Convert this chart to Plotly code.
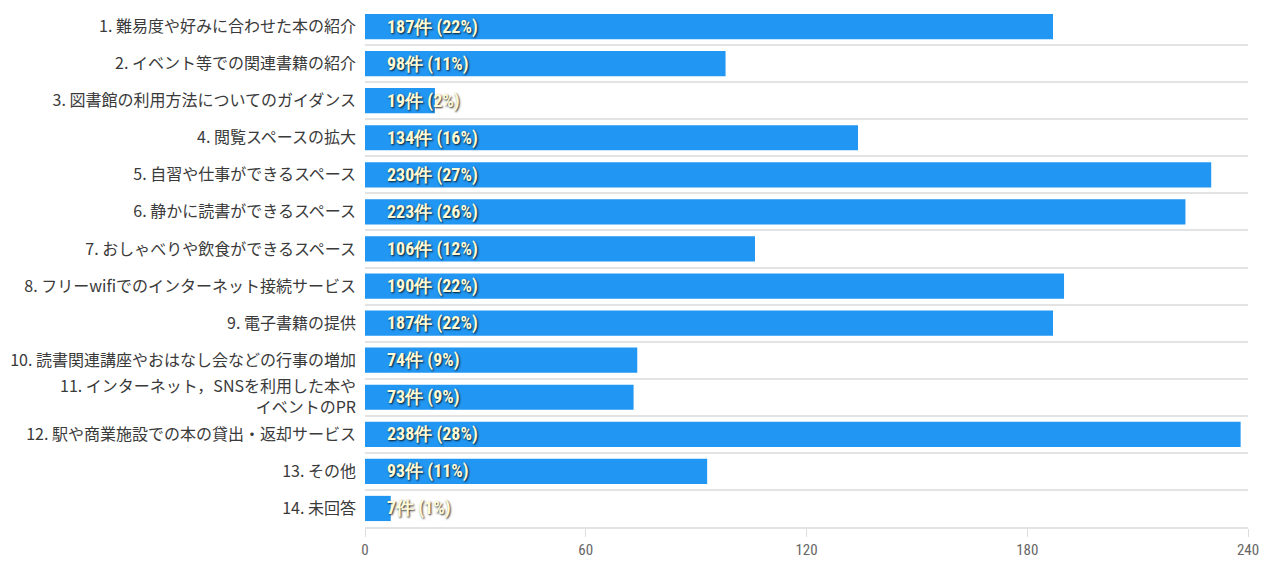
import plotly.graph_objects as go

categories = [
    "1. 難易度や好みに合わせた本の紹介",
    "2. イベント等での関連書籍の紹介",
    "3. 図書館の利用方法についてのガイダンス",
    "4. 閲覧スペースの拡大",
    "5. 自習や仕事ができるスペース",
    "6. 静かに読書ができるスペース",
    "7. おしゃべりや飲食ができるスペース",
    "8. フリーwifiでのインターネット接続サービス",
    "9. 電子書籍の提供",
    "10. 読書関連講座やおはなし会などの行事の増加",
    "11. インターネット，SNSを利用した本や<br>イベントのPR",
    "12. 駅や商業施設での本の貸出・返却サービス",
    "13. その他",
    "14. 未回答",
]
counts = [187, 98, 19, 134, 230, 223, 106, 190, 187, 74, 73, 238, 93, 7]
percents = [22, 11, 2, 16, 27, 26, 12, 22, 22, 9, 9, 28, 11, 1]
x_ticks = [0, 60, 120, 180, 240]

narrow = "Liberation Sans Narrow, Roboto Condensed, Roboto, sans-serif"

fig = go.Figure(
    go.Bar(
        x=counts,
        y=categories,
        orientation="h",
        marker=dict(color="#2196f3", line=dict(width=0)),
        hoverinfo="x+y",
    )
)

for c, p, cat in zip(counts, percents, categories):
    fig.add_annotation(
        x=0, y=cat, xref="x", yref="y",
        text=f"{c}件 ({p}%)",
        showarrow=False, xanchor="left", yanchor="middle",
        xshift=20,
        font=dict(family=narrow, size=18, color="#fffbd8", weight="bold",
                  shadow="1px 1px 2px rgba(0,0,0,0.85)"),
    )

# page body has an 8px margin; size the figure so the plot lands where the reference has it
fig.update_layout(
    width=1262, height=553,
    margin=dict(l=357, r=22, t=0, b=34),
    plot_bgcolor="white", paper_bgcolor="white",
    bargap=0.32,
    showlegend=False,
    xaxis=dict(
        range=[0, 240], tickvals=x_ticks, showgrid=False, zeroline=False,
        showline=True, mirror=True, linecolor="#e3e3e3", linewidth=2,
        ticks="outside", ticklen=8, tickcolor="#dddddd",
        automargin=False,
        tickfont=dict(family=narrow, size=15, color="#666666"),
    ),
    yaxis=dict(
        type="category", range=[13.5, -0.5], tickson="boundaries",
        showgrid=True, gridcolor="#e3e3e3", gridwidth=2,
        ticks="", showline=False, zeroline=False, ticklabelstandoff=8,
        automargin=False,
        tickfont=dict(family="Noto Sans CJK JP, sans-serif", size=16, color="#3a3a3a"),
    ),
)

fig.write_html("out.html")
